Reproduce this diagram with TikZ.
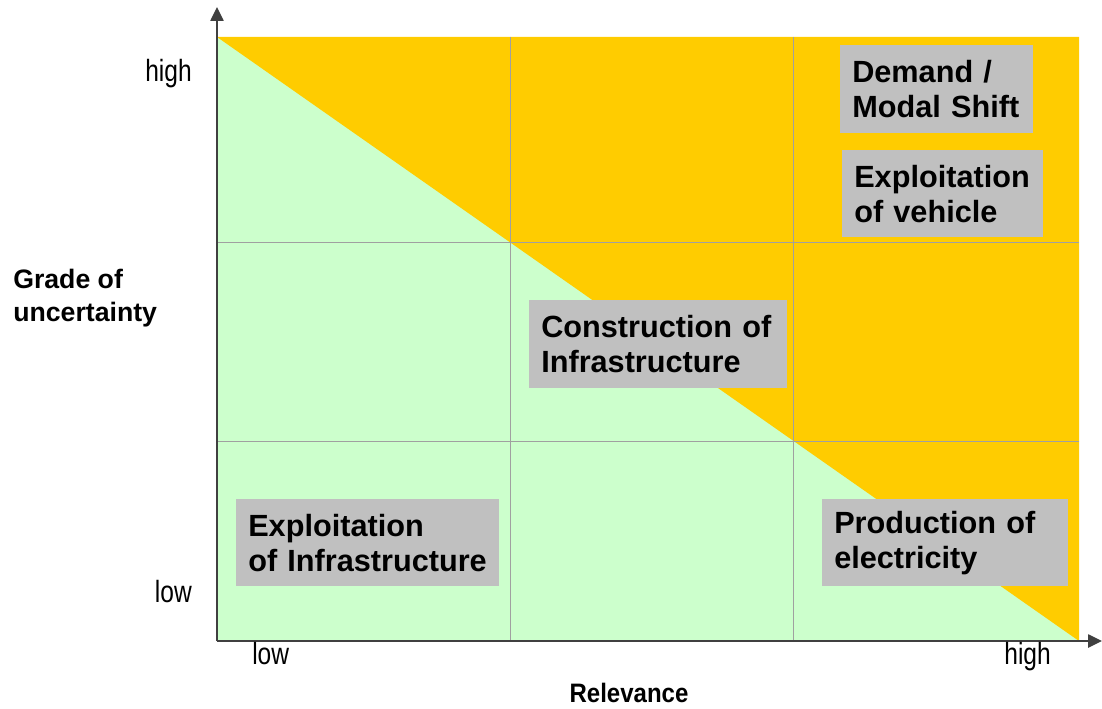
\documentclass[tikz,border=0pt]{standalone}
\usepackage{fontspec}
\setmainfont{Liberation Sans}
\usetikzlibrary{arrows.meta}

\definecolor{lowfill}{HTML}{CCFFCC}
\definecolor{highfill}{HTML}{FFCC00}
\definecolor{boxgray}{HTML}{C0C0C0}
\definecolor{gridgray}{HTML}{A0A0A0}
\definecolor{axisgray}{HTML}{404040}

\begin{document}
\begin{tikzpicture}[
    x=0.75pt, y=-0.75pt,
    box/.style={
        rectangle, fill=boxgray, anchor=north west,
        inner xsep=9pt, inner ysep=0pt, align=left,
        font=\fontsize{23}{26.25}\selectfont\bfseries
    },
    % grid of the 3x3 matrix
    gridline/.style={gridgray, line width=0.75pt},
    axis/.style={
        -{Triangle[length=10.5pt,width=10pt]}, axisgray, line width=1.1pt
    },
    tick/.style={font=\fontsize{23}{26}\selectfont, inner sep=0pt},
    title/.style={font=\fontsize{20}{24.75}\selectfont\bfseries, inner sep=0pt}
]
\useasboundingbox (0,0) rectangle (1102,709);

% === Background areas ===
\fill[lowfill] (217,37) rectangle (1079,641);
\fill[highfill] (217,37) -- (1079,37) -- (1079,641) -- cycle;

% === Grid ===
\draw[gridline] (510,37) -- (510,641);
\draw[gridline] (793,37) -- (793,641);
\draw[gridline] (217,243) -- (1079,243);
\draw[gridline] (217,441) -- (1079,441);

% === Axes ===
\coordinate (origin) at (217,641);
\coordinate (ytip)   at (217,7);
\coordinate (xtip)   at (1102,641);
\draw[axis] (origin) -- (ytip);
\draw[axis] (origin) -- (xtip);

% === Axis labels ===
\node[tick, anchor=base east] (yhigh) at (192,82)  {\scalebox{0.8}[1]{high}};
\node[tick, anchor=base east] (ylow)  at (192,602) {\scalebox{0.8}[1]{low}};
\node[tick, anchor=base west] (xlow)  at (252,664) {\scalebox{0.8}[1]{low}};
\node[tick, anchor=base east] (xhigh) at (1051,664) {\scalebox{0.8}[1]{high}};

\node[title, anchor=base] (xtitle) at (629,702) {\scalebox{0.9}[1]{Relevance}};
\node[title, anchor=base west, align=left] (ytitle) at (13,321) {Grade of\\uncertainty};

% === Areas of the matrix ===
\node[box, text width=126.75pt, minimum height=66pt]    (demand)  at (840,45)  {Demand /\\Modal Shift};
\node[box, text width=132.75pt, minimum height=65.25pt] (vehicle) at (842,150) {Exploitation\\of vehicle};
\node[box, text width=175.5pt,  minimum height=66pt]    (constr)  at (529,300) {Construction of\\Infrastructure};
\node[box, text width=179.25pt, minimum height=65.25pt] (exploit) at (236,499) {Exploitation\\of Infrastructure};
\node[box, text width=166.5pt,  minimum height=65.25pt] (prod)    at (822,499) {Production of\\electricity};

\end{tikzpicture}
\end{document}
